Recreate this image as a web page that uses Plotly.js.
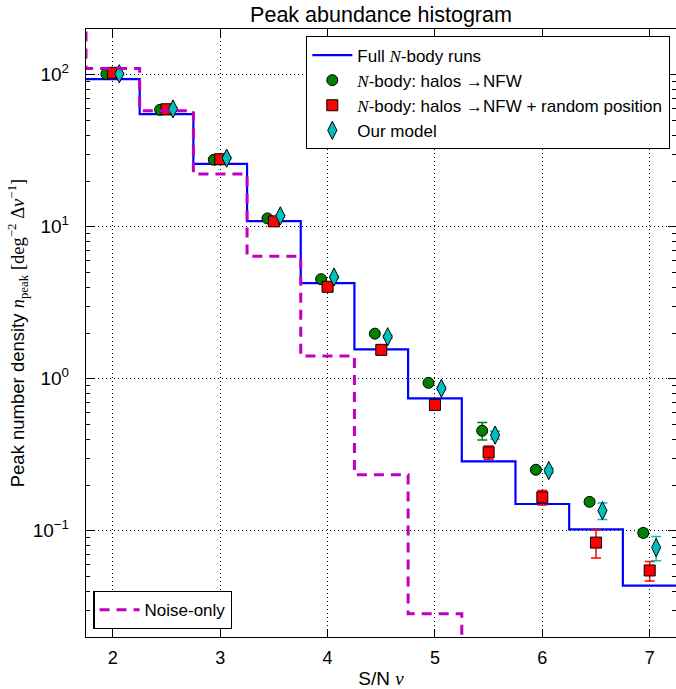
<!DOCTYPE html>
<html>
<head>
<meta charset="utf-8">
<script src="https://cdn.plot.ly/plotly-3.0.1.min.js"></script>
<style>html,body{margin:0;padding:0;background:#fff;}</style>
</head>
<body>
<div id="chart" style="width:676px;height:689px;"></div>
<script>
// Bin edges and centres (S/N nu)
const binEdges = [1.75, 2.25, 2.75, 3.25, 3.75, 4.25, 4.75, 5.25, 5.75, 6.25, 6.75, 7.25];
const binCenters = [2, 2.5, 3, 3.5, 4, 4.5, 5, 5.5, 6, 6.5, 7];

// Full N-body runs (step histogram)
const fullNbody = [93.7, 55, 25.9, 10.9, 4.26, 1.56, 0.744, 0.286, 0.150, 0.102, 0.0436];

// Noise-only (step histogram), edges from 1.25
const noiseEdges = [1.25, 1.75, 2.25, 2.75, 3.25, 3.75, 4.25, 4.75, 5.25];
const noiseOnly = [400, 110, 58, 22.2, 6.4, 1.41, 0.234, 0.0284, 0.005];

// N-body: halos -> NFW
const nfwVals = [101, 58.8, 27.6, 11.35, 4.52, 1.98, 0.94, 0.455, 0.252, 0.155, 0.0968];
const nfwErr  = [1.5, 0.9, 0.4, 0.2, 0.08, 0.04, 0.02, 0.06, 0.01, 0.006, 0.005];

// N-body: halos -> NFW + random position
const nfwRandVals = [103, 59.3, 27.8, 10.85, 4.03, 1.55, 0.673, 0.328, 0.166, 0.0836, 0.0548];
const nfwRandErr  = [1.5, 0.9, 0.4, 0.2, 0.08, 0.05, 0.025, 0.033, 0.018, 0.0175, 0.008];

// Our model
const modelVals = [101.5, 59.6, 28.3, 11.8, 4.67, 1.89, 0.865, 0.426, 0.249, 0.1355, 0.0775];
const modelErr  = [1.5, 0.9, 0.4, 0.2, 0.08, 0.04, 0.02, 0.025, 0.01, 0.017, 0.014];

const markerOffset = 0.06;

const stepX = binEdges.slice();
const stepY = fullNbody.concat([fullNbody[fullNbody.length - 1]]);

const serif = "font-family:'Liberation Serif','DejaVu Serif',serif";
const iN = `<span style="${serif}"><i>N</i></span>`;
const iNu = `<span style="${serif}"><i>ν</i></span>`;

const traces = [
  {
    x: stepX, y: stepY, type: 'scatter', mode: 'lines',
    line: {shape: 'hv', color: '#0000ff', width: 2.2},
    name: `Full ${iN}-body runs`, legend: 'legend'
  },
  {
    x: binCenters.map(v => v - markerOffset), y: nfwVals, type: 'scatter', mode: 'markers',
    marker: {symbol: 'circle', size: 11, color: '#008000', line: {color: '#000', width: 1}},
    error_y: {type: 'data', array: nfwErr, color: '#008000', thickness: 1.5, width: 5},
    name: `${iN}-body: halos →NFW`, legend: 'legend'
  },
  {
    x: binCenters, y: nfwRandVals, type: 'scatter', mode: 'markers',
    marker: {symbol: 'square', size: 11, color: '#ff0000', line: {color: '#000', width: 1}},
    error_y: {type: 'data', array: nfwRandErr, color: '#ff0000', thickness: 1.5, width: 5},
    name: `${iN}-body: halos →NFW + random position`, legend: 'legend'
  },
  {
    x: binCenters.map(v => v + markerOffset), y: modelVals, type: 'scatter', mode: 'markers',
    marker: {symbol: 'diamond-tall', size: 13, color: '#00bfbf', line: {color: '#000', width: 1}},
    error_y: {type: 'data', array: modelErr, color: '#00bfbf', thickness: 1.5, width: 5},
    name: 'Our model', legend: 'legend'
  },
  {
    x: noiseEdges, y: noiseOnly, type: 'scatter', mode: 'lines',
    line: {shape: 'hv', color: '#bf00bf', width: 3, dash: '10px,7px'},
    name: 'Noise-only', legend: 'legend2'
  }
];

const minorVals = [];
for (let e = -2; e <= 2; e++) {
  for (let k = 2; k <= 9; k++) minorVals.push(k * Math.pow(10, e));
}

const font = "'Liberation Sans', Arial, sans-serif";

const layout = {
  width: 676, height: 689,
  margin: {l: 86, r: 0, t: 29, b: 52},
  paper_bgcolor: '#fff', plot_bgcolor: '#fff',
  font: {family: font, color: '#000', size: 17},
  showlegend: true,
  title: {
    text: 'Peak abundance histogram',
    font: {family: font, size: 21.5, color: '#000'},
    x: 0.5, xref: 'paper', xanchor: 'center',
    y: 1 - 14 / 689, yref: 'container', yanchor: 'middle'
  },
  xaxis: {
    range: [1.75, 7.245],
    tickvals: [2, 3, 4, 5, 6, 7],
    ticks: 'inside', ticklen: 8, tickcolor: '#000', tickwidth: 1,
    showline: true, linecolor: '#000', linewidth: 1.2, mirror: 'ticks',
    showgrid: true, gridcolor: '#000', griddash: '1px,3px', gridwidth: 1,
    zeroline: false,
    tickfont: {family: font, size: 18, color: '#000'},
    ticklabelstandoff: 4,
    title: {text: `S/N ${iNu}`, font: {family: font, size: 19, color: '#000'}, standoff: 6}
  },
  yaxis: {
    type: 'log',
    range: [Math.log10(0.02), Math.log10(200)],
    tickvals: [0.1, 1, 10, 100],
    ticktext: ['10<sup>−1</sup>', '10<sup>0</sup>', '10<sup>1</sup>', '10<sup>2</sup>'],
    ticks: 'inside', ticklen: 8, tickcolor: '#000', tickwidth: 1,
    minor: {tickmode: 'array', tickvals: minorVals, ticks: 'inside', ticklen: 4, tickcolor: '#000', showgrid: false},
    showline: true, linecolor: '#000', linewidth: 1.2, mirror: 'ticks',
    showgrid: true, gridcolor: '#000', griddash: '1px,3px', gridwidth: 1,
    zeroline: false,
    tickfont: {family: font, size: 19, color: '#000'},
    ticklabelstandoff: 12,
    title: {
      text: `Peak number density <span style="${serif}"><i>n</i><sub>peak</sub> [deg<sup>−2</sup> Δ<i>ν</i><sup>−1</sup>]</span>`,
      font: {family: font, size: 18.5, color: '#000'}, standoff: 3
    }
  },
  legend: {
    x: 0.99, xanchor: 'right', y: 0.988, yanchor: 'top',
    bgcolor: '#fff', bordercolor: '#000', borderwidth: 1.2,
    font: {family: font, size: 17, color: '#000'},
    tracegroupgap: 0, itemwidth: 40
  },
  legend2: {
    x: 0.0124, xanchor: 'left', y: 0.013, yanchor: 'bottom',
    bgcolor: '#fff', bordercolor: '#000', borderwidth: 1.2,
    font: {family: font, size: 17, color: '#000'},
    itemwidth: 40
  }
};

Plotly.newPlot('chart', traces, layout, {displayModeBar: false, staticPlot: true});
</script>
</body>
</html>
